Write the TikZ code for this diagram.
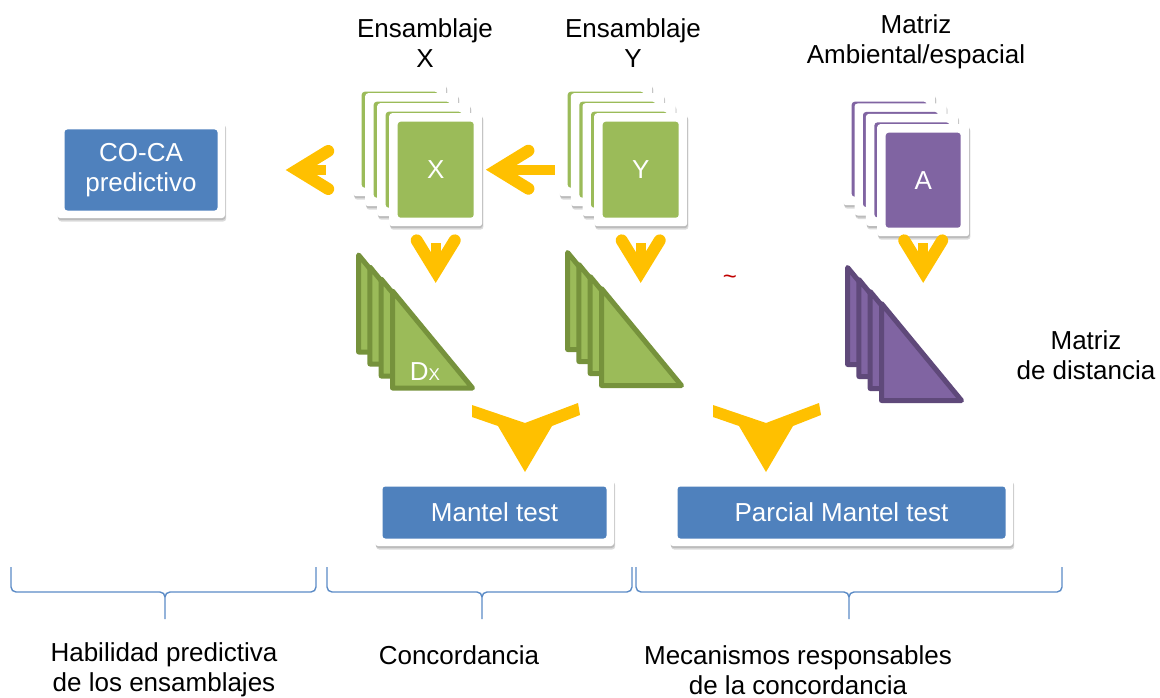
\documentclass[tikz,border=0pt]{standalone}
\usepackage{fontspec}
\setmainfont{Liberation Sans}
\usetikzlibrary{shadows,calc}

\definecolor{cblue}{HTML}{4F81BD}
\definecolor{cgreen}{HTML}{9BBB59}
\definecolor{cgreenD}{HTML}{76923C}
\definecolor{cpurple}{HTML}{8064A2}
\definecolor{cpurpleD}{HTML}{5F497A}
\definecolor{cyellow}{HTML}{FFC000}
\definecolor{cred}{HTML}{C00000}
\definecolor{cbrace}{HTML}{5B8BC6}

\newcommand\lblfont{\fontsize{26}{30}\selectfont}

\tikzset{
  cardshadow/.style={
    drop shadow={shadow xshift=1.2pt,shadow yshift=-3.5pt,opacity=.14,fill=black},
    drop shadow={shadow xshift=.6pt,shadow yshift=-2pt,opacity=.14,fill=black}},
  % white card with a coloured panel inset by #2
  card/.style 2 args={rectangle, rounded corners=3pt, fill=white, inner sep=0pt,
    cardshadow, text=white, font=\lblfont,
    path picture={\fill[#1]
      ([xshift=#2,yshift=-#2]path picture bounding box.north west) rectangle
      ([xshift=-#2,yshift=#2]path picture bounding box.south east);}},
  sheet/.style={card={#1}{8.5pt}, minimum width=93pt, minimum height=113pt, anchor=north west},
  bluebox/.style={card={cblue}{7.5pt}},
  label/.style={font=\lblfont, align=center, text=black, inner sep=0pt},
  greentri/.style={fill=cgreen, draw=cgreenD},
  purpletri/.style={fill=cpurple, draw=cpurpleD},
  bracestyle/.style={draw=cbrace, line width=1.4pt},
  pics/tri/.style={code={
    \filldraw[#1, line width=5pt, line join=round] (0,0) -- (0,97) -- (80,97) -- cycle;}},
  % block chevron arrow, tip at the origin, pointing down; #1 = shaft length
  pics/chev/.style={code={
    \fill[cyellow] (-5,-22) rectangle (5,-#1);
    \draw[cyellow, line width=12pt, line cap=round, line join=miter]
      (-19,-43) -- (0,-12) -- (19,-43);}},
  % two arms joining into one arrow head, tip at the origin
  pics/merge/.style={code={
    \fill[cyellow] (-53,-67) -- (0,-49) -- (53,-69) -- (55,-57) -- (27,-46)
      -- (0,0) -- (-27,-46) -- (-53,-55) -- cycle;}},
}

\newcommand\drawbrace[3]{%
  \draw[bracestyle] (#1,567) -- (#1,587) to[out=-90,in=180] (#1+5,592)
    -- (#2-5,592) to[out=0,in=90] (#2,597) -- (#2,619);
  \draw[bracestyle] (#2,597) to[out=90,in=180] (#2+5,592)
    -- (#3-5,592) to[out=0,in=-90] (#3,587) -- (#3,567);}

\begin{document}
\begin{tikzpicture}[x=1pt,y=-1pt]
\useasboundingbox (0,0) rectangle (1160,698);

% headings
\node[label] (hx) at (425,43) {Ensamblaje\\X};
\node[label] (hy) at (633,43) {Ensamblaje\\Y};
\node[label] (ha) at (916,42) {Matriz\\Ambiental/espacial};
\node[label] (hd) at (1086,355) {Matriz\\de distancia};

% CO-CA box
\node[bluebox, minimum width=168pt, minimum height=96pt, align=center] (coca) at (141,170) {CO-CA\\predictivo};

% stack of X sheets
\node[sheet=cgreen] (x4) at (353,83) {};
\node[sheet=cgreen] (x3) at (365,93) {};
\node[sheet=cgreen] (x2) at (377,103) {};
\node[sheet=cgreen] (X) at (389,113) {X};

% stack of Y sheets
\node[sheet=cgreen] (y4) at (559,83) {};
\node[sheet=cgreen] (y3) at (570.7,93) {};
\node[sheet=cgreen] (y2) at (582.3,103) {};
\node[sheet=cgreen] (Y) at (594,113) {Y};

% stack of environmental/spatial sheets
\node[sheet=cpurple, minimum width=92pt, minimum height=112pt] (a4) at (843,93) {};
\node[sheet=cpurple, minimum width=92pt, minimum height=112pt] (a3) at (854.3,103.3) {};
\node[sheet=cpurple, minimum width=92pt, minimum height=112pt] (a2) at (865.7,113.7) {};
\node[sheet=cpurple, minimum width=92pt, minimum height=112pt] (A) at (877,124) {A};

% distance matrices
\foreach \p in {(358.6,255),(369.9,267),(381.2,279),(392.5,291)} \pic at \p {tri=greentri};
\foreach \p in {(567.6,252.5),(578.9,264.5),(590.2,276.5),(601.5,288.5)} \pic at \p {tri=greentri};
\foreach \p in {(847.6,267.5),(858.9,279.5),(870.2,291.5),(881.5,303.5)} \pic at \p {tri=purpletri};
\node[text=white, font=\lblfont, inner sep=0pt] (dx) at (425,372) {D{\fontsize{17}{17}\selectfont X}};

% arrows
\pic[rotate=-90] at ($(X.east)+(3,0)$) {chev=70};
\pic[rotate=-90] at ($(coca.east)+(60,0)$) {chev=41};
\pic at ($(X.south)+(0,57)$) {chev=40};
\pic at ($(Y.south)+(0,57)$) {chev=40};
\pic at ($(A.south)+(0,47)$) {chev=40};
\pic at (525,472) {merge};
\pic at (766,472) {merge};

\node[text=cred, font=\fontsize{24}{24}\selectfont, inner sep=0pt] (tl) at (730,280) {\textasciitilde};

% tests
\node[bluebox, minimum width=239pt, minimum height=67pt] (mt) at (494.5,512.5) {Mantel test};
\node[bluebox, minimum width=343pt, minimum height=67pt] (pmt) at (841.5,512.5) {Parcial Mantel test};

% braces and their captions
\drawbrace{11}{165}{316}
\drawbrace{327}{482}{632}
\drawbrace{636}{849}{1062}
\node[label] (c1) at (164,670) {Habilidad predictiva\\de los ensamblajes};
\node[label] (c2) at (459,655) {Concordancia};
\node[label] (c3) at (798,670) {Mecanismos responsables\\de la concordancia};
\end{tikzpicture}
\end{document}
